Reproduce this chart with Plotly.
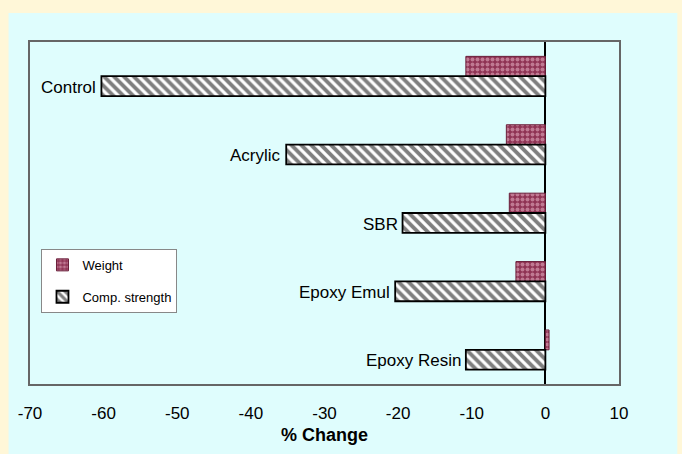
import plotly.graph_objects as go

# Percent change after exposure, per polymer modification
categories = ["Control", "Acrylic", "SBR", "Epoxy Emul", "Epoxy Resin"]
weight_change = [-10.8, -5.3, -4.9, -4.0, 0.5]
strength_change = [-60.3, -35.2, -19.4, -20.4, -10.8]
x_ticks = [-70, -60, -50, -40, -30, -20, -10, 0, 10]

FONT = "Liberation Sans, Arial, sans-serif"

fig = go.Figure()

fig.add_trace(go.Bar(
    y=categories, x=weight_change, orientation="h", name="Weight",
    legendgroup="w",
    marker=dict(
        color="#8f3354",
        line=dict(color="#6a1f3a", width=1),
        pattern=dict(shape=".", fgcolor="#f2c2d2", size=5, solidity=0.5),
    ),
))
fig.add_trace(go.Bar(
    y=categories, x=strength_change, orientation="h", name="Comp. strength",
    legendgroup="s",
    marker=dict(
        color="white",
        line=dict(color="black", width=1.8),
        pattern=dict(shape="\\", fgcolor="black", size=7, solidity=0.55),
    ),
))

# category names sit just left of the strength bars
for cat, val in zip(categories, strength_change):
    fig.add_annotation(
        x=val, y=cat, text=cat, showarrow=False, xanchor="right",
        yanchor="middle", xshift=-3, yshift=-11,
        font=dict(family=FONT, size=17, color="black"),
    )

# light cyan panel behind the plot
fig.add_shape(
    type="rect", xref="paper", yref="paper",
    x0=-0.0364, x1=1.099, y0=-0.25, y1=1.085,
    fillcolor="#dffdfd", line=dict(width=0), layer="below",
)

fig.update_layout(
    width=682, height=454,
    margin=dict(l=29.5, r=62.5, t=42, b=70),
    paper_bgcolor="#fff7d8",
    plot_bgcolor="white",
    barmode="group",
    bargap=0.42,
    bargroupgap=0,
    font=dict(family=FONT, color="black"),
    showlegend=True,
    legend=dict(
        x=0.0195, y=0.395, xanchor="left", yanchor="top",
        bgcolor="white", bordercolor="#888", borderwidth=1,
        font=dict(family=FONT, size=13),
        traceorder="grouped", tracegroupgap=12,
        itemwidth=30,
    ),
    xaxis=dict(
        range=[-70, 10], tickvals=x_ticks,
        ticktext=[str(v) for v in x_ticks],
        showgrid=False, zeroline=True, zerolinecolor="black", zerolinewidth=1.8,
        showline=True, mirror=True, linecolor="#666", linewidth=1.5,
        ticks="", ticklabelstandoff=13,
        tickfont=dict(family=FONT, size=17),
        title=dict(text="<b>% Change</b>", standoff=6,
                   font=dict(family=FONT, size=18)),
    ),
    yaxis=dict(
        autorange="reversed", showticklabels=False, showgrid=False,
        showline=True, mirror=True, linecolor="#666", linewidth=1.5,
        ticks="",
    ),
)

fig.write_html("out.html")
